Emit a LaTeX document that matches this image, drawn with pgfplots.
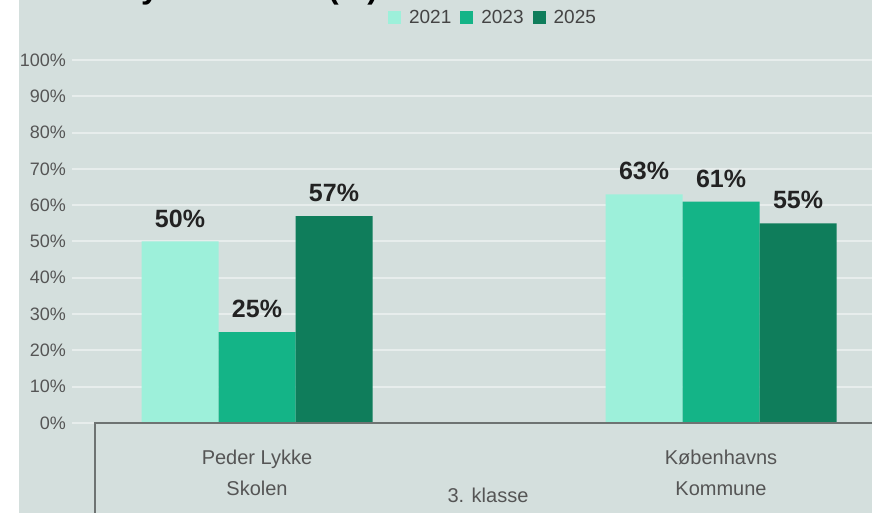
\documentclass[border=0pt]{standalone}
\usepackage{fontspec}
\setmainfont{Liberation Sans}
\usepackage{pgfplots}
\pgfplotsset{compat=1.18}

\definecolor{bgcol}{HTML}{D4DFDD}
\definecolor{gridcol}{HTML}{E7EDEC}
\definecolor{boxcol}{HTML}{6E7372}
\definecolor{tickcol}{HTML}{555555}
\definecolor{labcol}{HTML}{222222}
\definecolor{c2021}{HTML}{9DF0DA}
\definecolor{c2023}{HTML}{14B487}
\definecolor{c2025}{HTML}{0F7D5B}

\begin{document}
\begin{tikzpicture}
% page is 872pt x 513pt, 1pt = 1px
\fill[white] (0,0) rectangle (872pt,513pt);
\fill[bgcol] (19pt,0) rectangle (872pt,513pt);
\begin{axis}[
    at={(72pt,90pt)}, anchor=south west,
    scale only axis, width=800pt, height=363pt,
    xmin=-0.3987, xmax=1.3254, ymin=0, ymax=100,
    ybar=0pt, bar width=77pt,
    axis line style={draw=none},
    major tick length=0pt,
    xtick={0,1},
    xticklabels={Peder Lykke\\Skolen, Københavns\\Kommune},
    xticklabel style={align=center, font=\fontsize{20}{31}\selectfont,
        text=tickcol, inner sep=0pt, anchor=north, yshift=-27pt},
    ytick={0,10,20,30,40,50,60,70,80,90,100},
    yticklabels={0\%,10\%,20\%,30\%,40\%,50\%,60\%,70\%,80\%,90\%,100\%},
    yticklabel style={font=\fontsize{18}{18}\selectfont, text=tickcol,
        anchor=east, inner sep=0pt, xshift=-6pt},
    ymajorgrids, grid style={gridcol, line width=2pt},
    xlabel={3. klasse},
    xlabel style={at={(axis description cs:0.52,-0.198)}, anchor=center,
        font=\fontsize{20}{20}\selectfont, text=tickcol, inner sep=0pt},
    /pgf/number format/assume math mode=true,
    nodes near coords={\pgfmathprintnumber{\pgfplotspointmeta}\%},
    every node near coord/.append style={font=\fontsize{25}{25}\selectfont\bfseries,
        text=labcol, inner sep=0pt, anchor=south, yshift=14pt},
    legend columns=3,
    legend style={at={(0.525,1.1157)}, anchor=center, draw=none, fill=none,
        font=\fontsize{19}{19}\selectfont, text=tickcol!80!black,
        nodes={inner sep=0pt},
        /tikz/every odd column/.append style={column sep=8pt},
        /tikz/every even column/.append style={column sep=9pt}},
    legend image code/.code={\fill[#1] (0pt,-6.5pt) rectangle (13pt,6.5pt);},
]
\addplot[fill=c2021, draw=none] coordinates {(0,50) (1,63)};
\addplot[fill=c2023, draw=none] coordinates {(0,25) (1,61)};
\addplot[fill=c2025, draw=none] coordinates {(0,57) (1,55)};
\legend{2021,2023,2025}
\end{axis}
\draw[boxcol, line width=2pt] (95pt,-20pt) rectangle (900pt,90pt);
\fill[white] (0,0) rectangle (19pt,513pt);
% bottoms of the cut-off title
\node[anchor=base west, inner sep=0pt, font=\fontsize{32}{32}\selectfont\bfseries] at (141pt,514pt) {y};
\node[anchor=base west, inner sep=0pt, font=\fontsize{32}{32}\selectfont\bfseries] at (328pt,514pt) {(\%)};
\pgfresetboundingbox
\useasboundingbox (0,0) rectangle (872pt,513pt);
\end{tikzpicture}
\end{document}
